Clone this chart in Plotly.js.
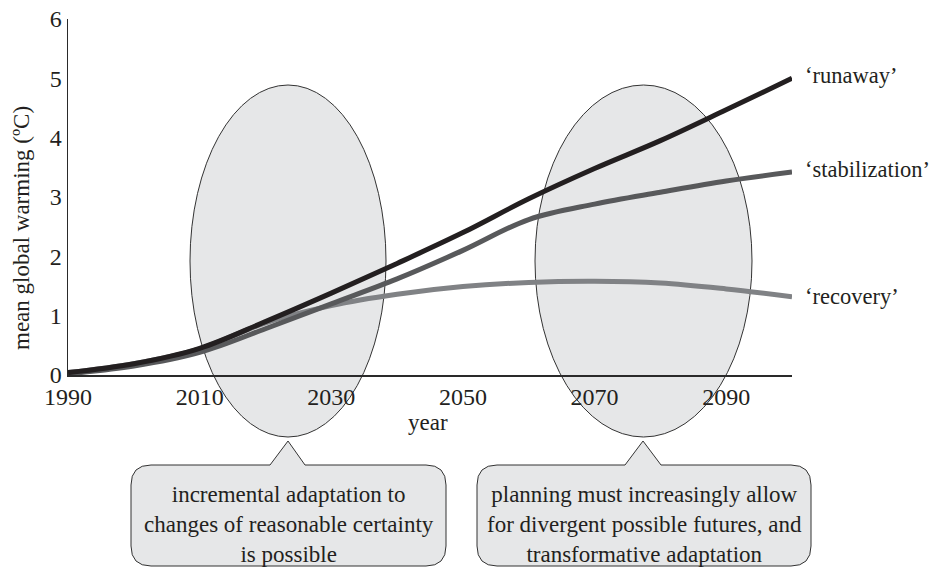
<!DOCTYPE html>
<html>
<head>
<meta charset="utf-8">
<script src="https://cdn.plot.ly/plotly-3.0.1.min.js"></script>
<style>html,body{margin:0;padding:0;background:#fff;}#chart{width:932px;height:569px;}</style>
</head>
<body>
<div id="chart"></div>
<script>
// ---- data ----
var years = [1990, 2000, 2010, 2020, 2030, 2040, 2050, 2060, 2070, 2080, 2090, 2100];
var runaway = [0.04, 0.19, 0.45, 0.9, 1.38, 1.88, 2.4, 2.97, 3.48, 3.95, 4.47, 5.0];
var stabilization = [0.02, 0.15, 0.38, 0.78, 1.2, 1.62, 2.1, 2.62, 2.88, 3.08, 3.27, 3.42];
var recovery = [0.04, 0.19, 0.44, 0.88, 1.17, 1.36, 1.49, 1.56, 1.58, 1.55, 1.45, 1.32];
var seriesNames = ["\u2018runaway\u2019", "\u2018stabilization\u2019", "\u2018recovery\u2019"];
var tickYears = [1990, 2010, 2030, 2050, 2070, 2090];
var boxTexts = [
  "incremental adaptation to<br>changes of reasonable certainty<br>is possible",
  "planning must increasingly allow<br>for divergent possible futures, and<br>transformative adaptation"
];

// ---- layout helpers (pixel -> paper) ----
var W = 932, H = 569, L = 68, R = 140, T = 19, B = 194;
var PW = W - L - R, PH = H - T - B;
function px(x) { return (x - L) / PW; }
function py(y) { return (H - B - y) / PH; }
function p(x, y) { return px(x) + "," + py(y); }

function calloutPath(l, r, t, b, rad, bx0, bx1, ax, ay) {
  return "M" + p(l + rad, t) + " L" + p(bx0, t) + " L" + p(ax, ay) + " L" + p(bx1, t) +
    " L" + p(r - rad, t) + " Q" + p(r, t) + " " + p(r, t + rad) +
    " L" + p(r, b - rad) + " Q" + p(r, b) + " " + p(r - rad, b) +
    " L" + p(l + rad, b) + " Q" + p(l, b) + " " + p(l, b - rad) +
    " L" + p(l, t + rad) + " Q" + p(l, t) + " " + p(l + rad, t) + " Z";
}

var FONT = '"Times New Roman", "Liberation Serif", Times, serif';
var TXT = "#231f20";
var colors = ["#231f20", "#58595b", "#808285"];
var data = [runaway, stabilization, recovery];

var traces = data.map(function (vals, i) {
  return {
    x: years, y: vals, type: "scatter", mode: "lines",
    line: { color: colors[i], width: 5, shape: "spline", smoothing: 1 },
    hoverinfo: "skip", showlegend: false, cliponaxis: false
  };
});
traces = [traces[2], traces[1], traces[0]];

var shapes = [
  { type: "circle", xref: "paper", yref: "paper", layer: "below",
    x0: px(190), x1: px(386), y0: py(437), y1: py(85),
    fillcolor: "#e6e7e8", line: { color: "#333333", width: 1 } },
  { type: "circle", xref: "paper", yref: "paper", layer: "below",
    x0: px(535), x1: px(752), y0: py(437), y1: py(85),
    fillcolor: "#e6e7e8", line: { color: "#333333", width: 1 } },
  { type: "path", xref: "paper", yref: "paper", layer: "above",
    path: calloutPath(131, 446, 465, 566, 20, 270, 305, 288, 441),
    fillcolor: "#e6e7e8", line: { color: "#333333", width: 1 } },
  { type: "path", xref: "paper", yref: "paper", layer: "above",
    path: calloutPath(477, 811, 465, 566, 20, 625, 661, 643, 441),
    fillcolor: "#e6e7e8", line: { color: "#333333", width: 1 } }
];

var lastIdx = years.length - 1;
var annotations = [
  { x: years[lastIdx], y: runaway[lastIdx], text: seriesNames[0], ys: 3 },
  { x: years[lastIdx], y: stabilization[lastIdx], text: seriesNames[1], ys: 3 },
  { x: years[lastIdx], y: recovery[lastIdx], text: seriesNames[2], ys: 0 }
].map(function (a) {
  return { x: a.x, y: a.y, xref: "x", yref: "y", text: a.text, showarrow: false,
    xanchor: "left", yanchor: "middle", xshift: 11, yshift: a.ys,
    font: { family: FONT, size: 22.5, color: TXT } };
});
annotations.push(
  { xref: "paper", yref: "paper", x: px(289), y: py(524), text: boxTexts[0], showarrow: false,
    xanchor: "center", yanchor: "middle", align: "center",
    font: { family: FONT, size: 23, color: TXT } },
  { xref: "paper", yref: "paper", x: px(644), y: py(524), text: boxTexts[1], showarrow: false,
    xanchor: "center", yanchor: "middle", align: "center",
    font: { family: FONT, size: 23, color: TXT } },
  { xref: "paper", yref: "paper", x: px(428), y: py(423), text: "year", showarrow: false,
    xanchor: "center", yanchor: "middle",
    font: { family: FONT, size: 23, color: TXT } },
  { xref: "paper", yref: "paper", x: px(22), y: py(228), text: "mean global warming (\u00baC)", showarrow: false,
    textangle: -90, xanchor: "center", yanchor: "middle",
    font: { family: FONT, size: 23, color: TXT } }
);

var layout = {
  width: W, height: H,
  margin: { l: L, r: R, t: T, b: B, pad: 0 },
  paper_bgcolor: "#ffffff", plot_bgcolor: "rgba(0,0,0,0)",
  showlegend: false,
  font: { family: FONT, color: TXT },
  xaxis: {
    range: [1990, 2100], tickvals: tickYears, ticktext: tickYears.map(String),
    showline: true, linecolor: "#2a2a2a", linewidth: 1.5, ticks: "", showgrid: false, zeroline: false,
    tickfont: { family: FONT, size: 24, color: TXT }, fixedrange: true
  },
  yaxis: {
    range: [0, 6], dtick: 1, tick0: 0,
    showline: true, linecolor: "#2a2a2a", linewidth: 1.5, ticks: "", showgrid: false, zeroline: false,
    tickfont: { family: FONT, size: 24, color: TXT }, fixedrange: true
  },
  shapes: shapes,
  annotations: annotations
};

Plotly.newPlot("chart", traces, layout, { displayModeBar: false, staticPlot: true });
</script>
</body>
</html>
